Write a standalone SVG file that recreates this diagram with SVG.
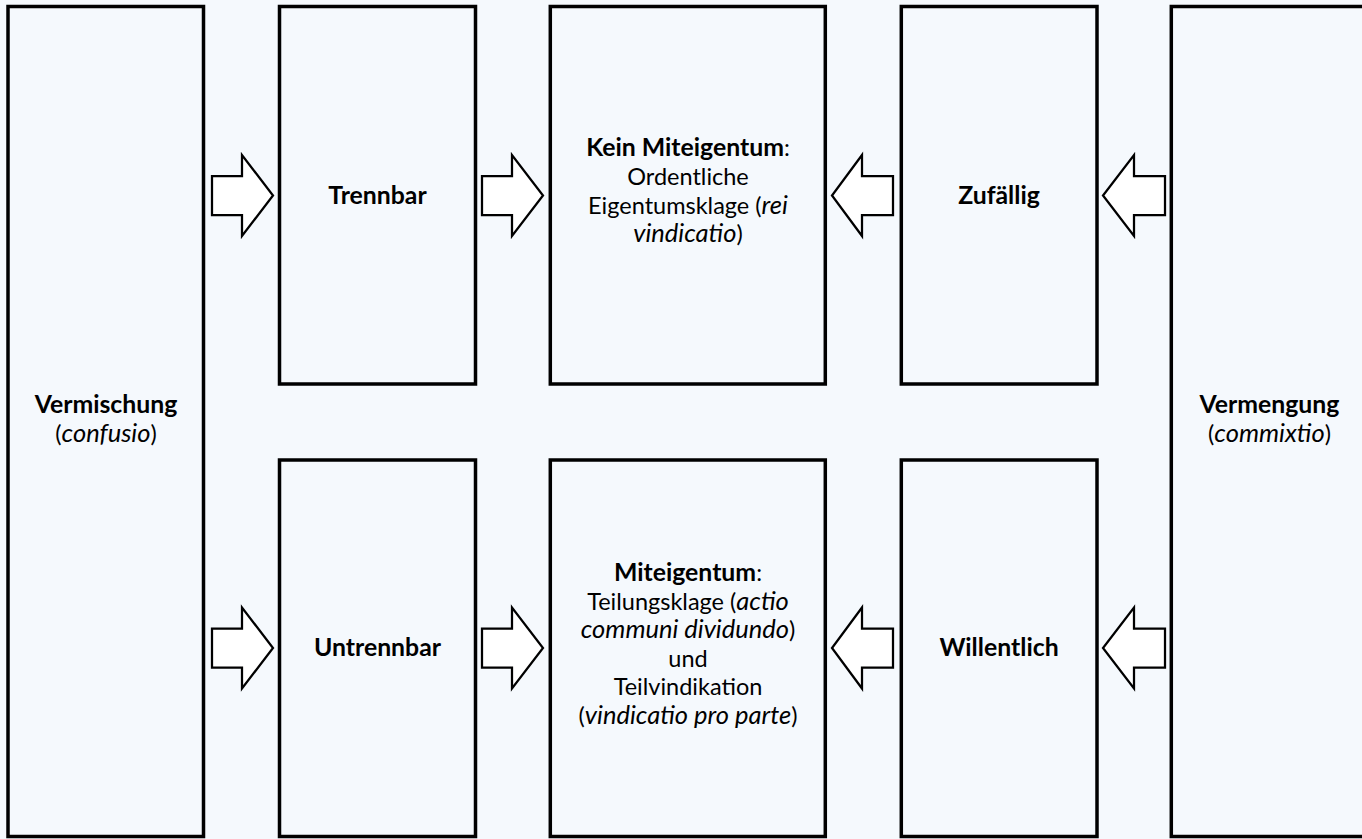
<svg xmlns="http://www.w3.org/2000/svg" width="1362" height="839" viewBox="0 0 1362 839">
<style>
.box{fill:#f5f9fd;stroke:#000;stroke-width:3.5}
.arr{fill:#fff;stroke:#000;stroke-width:2.25;stroke-linejoin:miter}
text{font-family:Lato,"Open Sans","Liberation Sans",sans-serif;font-size:23.5px;fill:#000;text-anchor:middle}
.b{font-weight:bold;font-size:24.8px}
.i{font-style:italic;font-size:25.5px}
</style>
<rect x="0" y="0" width="1362" height="839" fill="#f5f9fd"/>
<g id="vermischung">
<rect class="box" x="8" y="6.5" width="195.5" height="830"/>
<text x="106" y="413"><tspan class="b">Vermischung</tspan></text>
<text x="106" y="442">(<tspan class="i">confusio</tspan>)</text>
</g>
<g id="trennbar">
<rect class="box" x="279.5" y="6.5" width="196" height="377.5"/>
<text x="377.5" y="204" class="b">Trennbar</text>
</g>
<g id="untrennbar">
<rect class="box" x="279.5" y="460" width="196" height="376.5"/>
<text x="377.5" y="656" class="b">Untrennbar</text>
</g>
<g id="kein-miteigentum">
<rect class="box" x="550.3" y="6.5" width="275" height="377.5"/>
<text x="688" y="156"><tspan class="b">Kein Miteigentum</tspan>:</text>
<text x="688" y="185">Ordentliche</text>
<text x="688" y="213.5">Eigentumsklage (<tspan class="i">rei</tspan></text>
<text x="688" y="242"><tspan class="i">vindicatio</tspan>)</text>
</g>
<g id="miteigentum">
<rect class="box" x="550.3" y="460" width="275" height="376.5"/>
<text x="688" y="581"><tspan class="b">Miteigentum</tspan>:</text>
<text x="688" y="609.5">Teilungsklage (<tspan class="i">actio</tspan></text>
<text x="688" y="638"><tspan class="i">communi dividundo</tspan>)</text>
<text x="688" y="666.5">und</text>
<text x="688" y="695">Teilvindikation</text>
<text x="688" y="723.5">(<tspan class="i">vindicatio pro parte</tspan>)</text>
</g>
<g id="zufaellig">
<rect class="box" x="901.3" y="6.5" width="195.7" height="377.5"/>
<text x="999" y="204" class="b">Zufällig</text>
</g>
<g id="willentlich">
<rect class="box" x="901.3" y="460" width="195.7" height="376.5"/>
<text x="999" y="656" class="b">Willentlich</text>
</g>
<g id="vermengung">
<rect class="box" x="1171.3" y="6.5" width="195.5" height="830"/>
<text x="1269.5" y="413"><tspan class="b">Vermengung</tspan></text>
<text x="1269.5" y="442">(<tspan class="i">commixtio</tspan>)</text>
</g>
<g id="connectors">
<path class="arr" d="M212,176 H242 V155 L273,195.5 L242,236 V215 H212 Z"/>
<path class="arr" d="M482,176 H512 V155 L543,195.5 L512,236 V215 H482 Z"/>
<path class="arr" d="M212,628.5 H242 V607.5 L273,648 L242,688.5 V667.5 H212 Z"/>
<path class="arr" d="M482,628.5 H512 V607.5 L543,648 L512,688.5 V667.5 H482 Z"/>
<path class="arr" d="M893,176 H862 V155 L832,195.5 L862,236 V215 H893 Z"/>
<path class="arr" d="M1165,176 H1134 V155 L1103,195.5 L1134,236 V215 H1165 Z"/>
<path class="arr" d="M893,628.5 H862 V607.5 L832,648 L862,688.5 V667.5 H893 Z"/>
<path class="arr" d="M1165,628.5 H1134 V607.5 L1103,648 L1134,688.5 V667.5 H1165 Z"/>
</g>
</svg>
